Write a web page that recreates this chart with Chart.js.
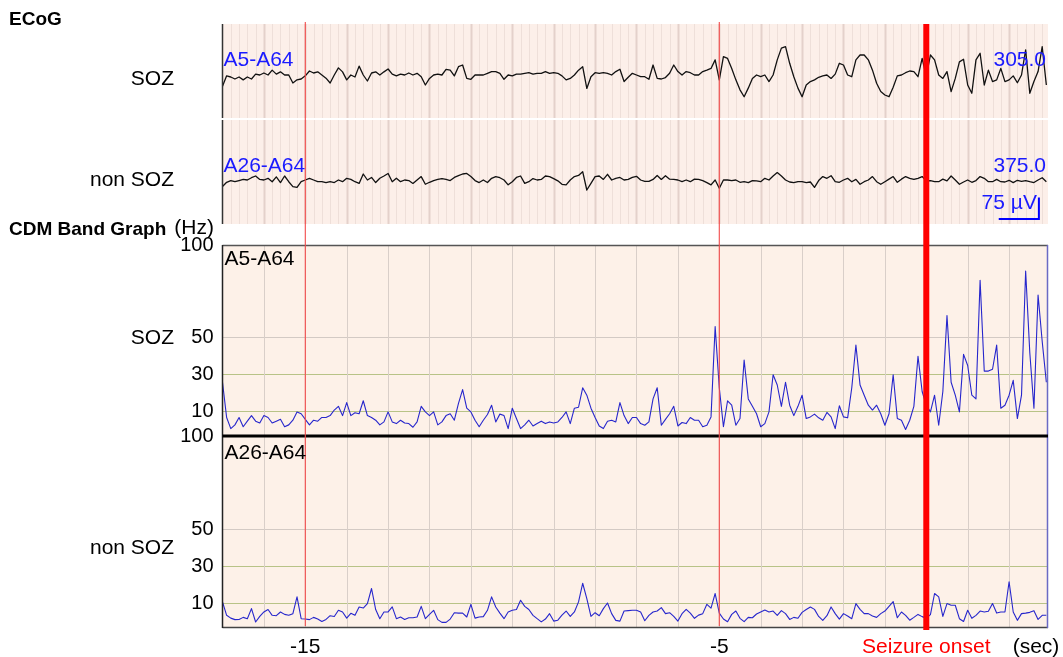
<!DOCTYPE html>
<html>
<head>
<meta charset="utf-8">
<script src="https://cdn.jsdelivr.net/npm/chart.js@4.4.1/dist/chart.umd.min.js"></script>
<style>
html,body{margin:0;padding:0;background:#fff;}
#wrap{position:relative;width:1063px;height:657px;}
canvas{display:block;}
</style>
</head>
<body>
<div id="wrap"><canvas id="c" width="1063" height="657"></canvas></div>
<script>
// ---------- DATA ----------
const T_START = -17;          // seconds (first sample)
const T_STEP = 0.1;           // seconds between samples
const X_MIN = -17, X_MAX = 2.94;

// ECoG traces, µV relative to channel baseline
const ecogSOZ = [
 -32,4,0,-7,0,-10,0,-7,10,7, 14,7,24,10,18,7,7,-21,-10,-7, 4,21,14,18,7,-4,-21,7,32,18,
 -10,7,0,38,7,-14,14,18,7,18, 28,10,4,10,7,14,7,
 13,1,-28,-5,7,10,7,27,24,4, 36,42,-5,-8,7,7,7,13,19,19, 13,-8,7,4,10,10,13,15,10,13,
 13,19,13,15,13,4,-10,-5,7,24, 36,-40,1,15,13,15,13,7,19,27, -16,-1,13,7,1,1,-8,42,-5,
 -7,-2,13,42,19,7,19,15,7,7, 19,24,30,60,-10,71,65,30,-10,-45, -69,-39,-5,7,1,7,-16,7,60,101,
 106,48,1,-39,-69,-28,-16,-10,-1,4, 7,-5,10,48,42,7,1,60,77,77, 60,24,-22,-51,-63,-69,-36,4,7,15,
 21,19,1,65,1,77,60,7,-5,19, -51,-5,53,62,-28,-57,60,83,-28,24, -16,-10,30,-16,-10,4,-20,7,95,-57,
 -16,19,106,-28
];
const ecogNonSOZ = [
 -16,-1,5,1,5,9,7,15,21,9, 7,13,1,18,-2,21,1,-16,-19,1, 7,13,7,1,1,-2,1,-2,7,1,
 13,9,1,-5,28,7,16,-2,13,21, 30,1,13,1,7,5,-5,
 7,19,-8,-1,5,9,12,9,5,16, 22,28,30,19,5,-2,7,-2,13,19, 15,7,-10,1,16,21,-5,1,12,7,
 9,21,19,12,4,-8,-10,7,19,23, 36,-28,-5,19,21,9,27,7,13,16, 7,9,16,20,7,2,2,9,23,
 9,22,10,9,7,1,7,1,10,9, 5,-2,-10,7,-22,7,7,5,7,-1, 1,-2,5,4,1,13,7,21,33,21,
 7,0,-2,1,1,-2,0,-19,5,19, 13,22,1,-1,7,13,1,9,-8,1, 7,19,1,-8,1,10,19,-1,10,19,
 13,9,13,19,4,5,1,1,10,4, 21,7,-8,0,7,-1,5,19,13,1, 1,9,1,0,6,-2,6,2,5,1,
 -2,7,15,1
];

// CDM band graph, Hz
const cdmSOZ = [
 26,7,1,3,7,2,5,8,5,4, 8,7,4,5,6,2,3,5.5,10,9, 6,3,5.5,5,7,7,8,11,13,8,
 15,8,9.5,9,16,8,7,5.5,3,4.6, 10,4.6,3.7,5.5,4,3.7,1.7,4.6,13,10, 8,10,3,4.6,8,9,5.5,14.6,22,12,
 10,5.5,2,5.5,8.6,13.6,4.6,8.8,8,1, 12,6.4,1,3,5.5,2.4,3.7,5,3.7,4.6, 4,4.6,7,10,3.7,12,12.5,23,19,12,
 7,2.4,1,5,5.5,4.6,15,8,3.7,7, 7,
 3.7,2.8,4.6,17,23,2.8,6,9,13,2.4, 4.3,3.7,7,5.5,5.5,2,2.8,7.3,56,23, 2,16,13.6,2.8,6.4,38,17,13,9,2,
 3.7,10,30,24.5,13,26,13.6,8,13,19, 6.4,7.3,8.8,6.8,5.5,9.7,7.3,1,13.3,7.3, 6.8,23,46,24.5,19,13.6,11,13.6,9,2.8,
 9,30,6.4,5.5,0.5,5.5,13,40,21,13.6, 10,19,2.8,21,62,26,19,10,41,35, 19,17,81,32,32,33,46,12,13.6,19,
 27,6.4,19,86,42,12,73,48,26
];
const cdmNonSOZ = [
 11,3.8,2.3,1.5,1.6,2.7,2,7.4,0.2,3.2, 5.6,6.9,3.8,3.6,5.6,4.3,3.8,4.7,13.7,2, 1.8,1.5,2.7,1.8,0.5,1.6,3.6,3.2,6.5,5.6,
 2.3,4.9,3.8,8.3,7.7,10.1,18.2,6.9,2,5.6, 5.6,8.3,2,2.9,1.6,2.5,2.5,2.9,8.6,2, 4.3,6.5,1.5,0,0,1.8,5.2,5,5,2.9,
 9.7,2.3,2.9,3.1,6.5,13.7,8.3,5,2,5.6, 6.5,6.9,11.9,8.6,6.9,3.8,2,0.3,1.8,4.7, 0.7,1.2,3.9,6.1,3.2,5.6,11,21,12.8,3.2,
 5.2,3.6,7.4,10.4,4.7,1.1,0.7,6.1,6.3,6.5, 6.5,
 5.6,0.9,3.8,5.6,6.1,7.9,4.7,5.2,3.2,0.7, 4.7,7,5,2.2,3.9,4.7,9.7,7.7,15.5,5, 1.8,0.4,4.3,6.1,2.2,0.4,2.7,2.5,4.5,5.6,
 6.6,5.6,6.1,3.8,6.3,4.7,1.6,2.7,2.2,5.4, 6.9,8.3,7,3.2,1.1,3.6,8.3,4.7,1.8,4.7, 3.4,2,10.1,7,4.7,4.7,3.4,2.7,4.7,6.1,
 8.6,11.2,2.5,5.6,3.8,1.2,2.7,4.3,3.1,2.3, 4.2,15.5,13.7,3.2,10.1,9.2,9.2,2,0.5,6.5, 2.2,3.8,6.1,5.6,6,10.1,5,5.6,5.6,21.8,
 5.6,1.1,4.7,5,5.4,6.3,1.6,3.8,3.8
];

// Tick labels / markers
const xTickValues = [-15, -5, 0];
const xTickLabels = { '-15': '-15', '-5': '-5', '0': 'Seizure onset' };
const cdmTickValues = [10, 30, 50, 100];
const markerTimes = [-15, -5];     // thin red markers
const onsetTime = 0;               // seizure onset
const channelNames = ['A5-A64', 'A26-A64'];
const ecogGains = ['305.0', '375.0'];
const scaleBarUV = 75;
const scaleBarBase = -129.5;       // µV level of scale bar foot
const scaleBarTimes = [1.75, 2.72];

// ---------- STYLE ----------
const FONT = '"Liberation Sans", Arial, Helvetica, sans-serif';
const ECOG_BG = '#fcefe9';
const CDM_BG = '#fdf1e8';
const BLUE_TXT = '#1a1aff';

const times = ecogSOZ.map((_, i) => +(T_START + i * T_STEP).toFixed(2));
const pts = arr => arr.map((v, i) => ({ x: times[i], y: v }));

Chart.defaults.color = '#000';
Chart.defaults.font.family = FONT;

const fixWidth = s => { s.width = 222.5; };

const panelPlugin = {
  id: 'panels',
  beforeDraw(chart) {
    const { ctx, chartArea: ca, scales } = chart;
    const e1 = scales.yE1, e2 = scales.yE2, c1 = scales.yC1, c2 = scales.yC2;
    const w = ca.right - ca.left;
    ctx.save();
    ctx.fillStyle = '#fff';
    ctx.fillRect(0, 0, chart.width, chart.height);
    ctx.fillStyle = ECOG_BG;
    ctx.fillRect(ca.left, e1.top, w, e1.bottom - e1.top - 1);
    ctx.fillRect(ca.left, e2.top + 1, w, e2.bottom - e2.top - 1);
    ctx.fillStyle = CDM_BG;
    ctx.fillRect(ca.left, c1.top, w, c2.bottom - c1.top);
    ctx.restore();
  },
  beforeDatasetsDraw(chart) {
    const { ctx, chartArea: ca, scales } = chart;
    const x = scales.x, e1 = scales.yE1, e2 = scales.yE2, c1 = scales.yC1, c2 = scales.yC2;
    ctx.save();
    // ECoG stripes every 0.2 s
    for (let k = 1; k * 0.2 + X_MIN < X_MAX; k++) {
      const t = X_MIN + k * 0.2;
      const px = Math.round(x.getPixelForValue(t)) + 0.5;
      const major = (k % 5 === 0);
      ctx.strokeStyle = major ? '#e4d1cb' : '#eedfd9';
      ctx.lineWidth = major ? 2 : 1;
      ctx.beginPath();
      ctx.moveTo(px, e1.top); ctx.lineTo(px, e1.bottom - 1);
      ctx.moveTo(px, e2.top + 1); ctx.lineTo(px, e2.bottom);
      ctx.stroke();
    }
    // CDM vertical grid every 1 s
    ctx.strokeStyle = '#d9cfc9';
    ctx.lineWidth = 1;
    for (let t = Math.ceil(X_MIN) + 1; t < X_MAX; t++) {
      const px = Math.round(x.getPixelForValue(t)) + 0.5;
      ctx.beginPath();
      ctx.moveTo(px, c1.top); ctx.lineTo(px, c2.bottom);
      ctx.stroke();
    }
    ctx.restore();
  },
  afterDatasetsDraw(chart) {
    const { ctx, chartArea: ca, scales } = chart;
    const x = scales.x, e1 = scales.yE1, e2 = scales.yE2, c1 = scales.yC1, c2 = scales.yC2;
    ctx.save();
    // ECoG left borders
    ctx.strokeStyle = '#333';
    ctx.lineWidth = 1.5;
    ctx.beginPath();
    ctx.moveTo(ca.left, e1.top); ctx.lineTo(ca.left, e1.bottom - 1);
    ctx.moveTo(ca.left, e2.top + 1); ctx.lineTo(ca.left, e2.bottom);
    ctx.stroke();
    // CDM frame
    ctx.strokeStyle = '#555';
    ctx.beginPath(); ctx.moveTo(ca.left, c1.top + 0.5); ctx.lineTo(ca.right, c1.top + 0.5); ctx.stroke();
    ctx.strokeStyle = '#444';
    ctx.beginPath(); ctx.moveTo(ca.left, c2.bottom - 0.5); ctx.lineTo(ca.right, c2.bottom - 0.5); ctx.stroke();
    ctx.strokeStyle = '#6a6ac4';
    ctx.beginPath(); ctx.moveTo(ca.right - 0.5, c1.top); ctx.lineTo(ca.right - 0.5, c2.bottom); ctx.stroke();
    ctx.strokeStyle = '#222';
    ctx.beginPath(); ctx.moveTo(ca.left, c1.top); ctx.lineTo(ca.left, c2.bottom); ctx.stroke();
    ctx.strokeStyle = '#000';
    ctx.lineWidth = 3;
    ctx.beginPath(); ctx.moveTo(ca.left, c2.top); ctx.lineTo(ca.right, c2.top); ctx.stroke();

    // thin red markers
    ctx.strokeStyle = '#f24a4a';
    ctx.lineWidth = 1.1;
    markerTimes.forEach(t => {
      const px = x.getPixelForValue(t);
      ctx.beginPath(); ctx.moveTo(px, ca.top - 2); ctx.lineTo(px, c2.bottom - 2); ctx.stroke();
    });
    // seizure onset
    ctx.strokeStyle = '#ff0000';
    ctx.lineWidth = 6;
    const po = x.getPixelForValue(onsetTime);
    ctx.beginPath(); ctx.moveTo(po, ca.top); ctx.lineTo(po, c2.bottom + 2); ctx.stroke();

    // scale bar
    ctx.strokeStyle = '#0000ff';
    ctx.lineWidth = 2;
    const sx0 = x.getPixelForValue(scaleBarTimes[0]);
    const sx1 = x.getPixelForValue(scaleBarTimes[1]);
    const sy0 = e2.getPixelForValue(scaleBarBase);
    const sy1 = e2.getPixelForValue(scaleBarBase + scaleBarUV);
    ctx.beginPath();
    ctx.moveTo(sx0, sy0); ctx.lineTo(sx1, sy0); ctx.lineTo(sx1, sy1);
    ctx.stroke();
    ctx.restore();
  },
  afterDraw(chart) {
    const { ctx, chartArea: ca, scales } = chart;
    const x = scales.x, e1 = scales.yE1, e2 = scales.yE2, c1 = scales.yC1, c2 = scales.yC2;
    const f21 = '21px ' + FONT;
    ctx.save();
    ctx.textBaseline = 'middle';
    const txt = (s, px, py, align, font, color) => {
      ctx.font = font; ctx.fillStyle = color; ctx.textAlign = align; ctx.fillText(s, px, py);
    };
    // section titles
    txt('ECoG', 9, 20, 'left', 'bold 19px ' + FONT, '#000');
    txt('CDM Band Graph', 9, 230, 'left', 'bold 19px ' + FONT, '#000');
    txt('(Hz)', 214, 228, 'right', f21, '#000');
    // row labels
    txt('SOZ', 174, e1.getPixelForValue(-7), 'right', f21, '#000');
    txt('non SOZ', 174, e2.getPixelForValue(7), 'right', f21, '#000');
    txt('SOZ', 174, c1.getPixelForValue(50), 'right', f21, '#000');
    txt('non SOZ', 174, c2.getPixelForValue(40), 'right', f21, '#000');
    // ECoG channel names & gains
    txt(channelNames[0], ca.left + 1, e1.top + 36.5, 'left', f21, BLUE_TXT);
    txt(channelNames[1], ca.left + 1, e2.top + 47, 'left', f21, BLUE_TXT);
    txt(ecogGains[0], ca.right - 2, e1.top + 36.5, 'right', f21, BLUE_TXT);
    txt(ecogGains[1], ca.right - 2, e2.top + 47, 'right', f21, BLUE_TXT);
    // scale bar label
    const sx1 = x.getPixelForValue(scaleBarTimes[1]);
    txt(scaleBarUV + ' µV', sx1 - 2, e2.getPixelForValue(scaleBarBase) - 16, 'right', f21, BLUE_TXT);
    // CDM channel names
    txt(channelNames[0], ca.left + 2, c1.top + 14, 'left', f21, '#000');
    txt(channelNames[1], ca.left + 2, c2.top + 17, 'left', f21, '#000');
    // x unit
    txt('(sec)', 1036, 647, 'center', f21, '#000');
    ctx.restore();
  }
};

const ecogAxis = (weight, stackWeight, min, max) => ({
  type: 'linear', position: 'left', stack: 'panels', stackWeight, weight, min, max,
  display: true,
  grid: { display: false },
  border: { display: false },
  ticks: { display: false },
  afterFit: fixWidth
});

const cdmAxis = (weight, stackWeight) => ({
  type: 'linear', position: 'left', stack: 'panels', stackWeight, weight, min: -3, max: 100,
  display: true,
  border: { display: false },
  grid: {
    drawTicks: false,
    lineWidth: 1,
    color: ctx => {
      const v = ctx.tick ? ctx.tick.value : null;
      if (v === 100) return 'rgba(0,0,0,0)';
      if (v === 50) return '#d3cac4';
      return '#b8c387';
    }
  },
  afterBuildTicks: s => { s.ticks = cdmTickValues.map(v => ({ value: v })); },
  ticks: {
    autoSkip: false, padding: 9, color: '#000',
    font: { size: 20, family: FONT },
    callback: v => String(v)
  },
  afterFit: fixWidth
});

new Chart(document.getElementById('c'), {
  type: 'line',
  data: {
    datasets: [
      { data: pts(ecogSOZ), yAxisID: 'yE1', borderColor: '#111', borderWidth: 1.3 },
      { data: pts(ecogNonSOZ), yAxisID: 'yE2', borderColor: '#111', borderWidth: 1.3 },
      { data: pts(cdmSOZ), yAxisID: 'yC1', borderColor: '#2626cc', borderWidth: 1.1 },
      { data: pts(cdmNonSOZ), yAxisID: 'yC2', borderColor: '#2626cc', borderWidth: 1.1 }
    ]
  },
  options: {
    responsive: false,
    animation: false,
    devicePixelRatio: 1,
    events: [],
    layout: { padding: { top: 24, right: 15, bottom: 0, left: 0 } },
    elements: { point: { radius: 0 }, line: { tension: 0, borderJoinStyle: 'round' } },
    plugins: { legend: { display: false }, tooltip: { enabled: false } },
    scales: {
      x: {
        type: 'linear', position: 'bottom', min: X_MIN, max: X_MAX,
        grid: { display: false, drawTicks: false },
        border: { display: false },
        afterBuildTicks: s => { s.ticks = xTickValues.map(v => ({ value: v })); },
        ticks: {
          autoSkip: false, maxRotation: 0, padding: 7,
          font: { size: 21, family: FONT },
          color: ctx => (ctx.tick && ctx.tick.value === onsetTime) ? '#ff0000' : '#000',
          callback: v => xTickLabels[String(v)]
        },
        afterFit: s => { s.height = 29; }
      },
      yE1: ecogAxis(5, 95, -147, 185.5),
      yE2: ecogAxis(4, 105, -147, 220.5),
      ySp: {
        type: 'linear', position: 'left', stack: 'panels', stackWeight: 21, weight: 3, min: 0, max: 1,
        display: true, grid: { display: false }, border: { display: false }, ticks: { display: false },
        afterFit: fixWidth
      },
      yC1: cdmAxis(2, 191),
      yC2: cdmAxis(1, 192)
    }
  },
  plugins: [panelPlugin]
});
</script>
</body>
</html>
